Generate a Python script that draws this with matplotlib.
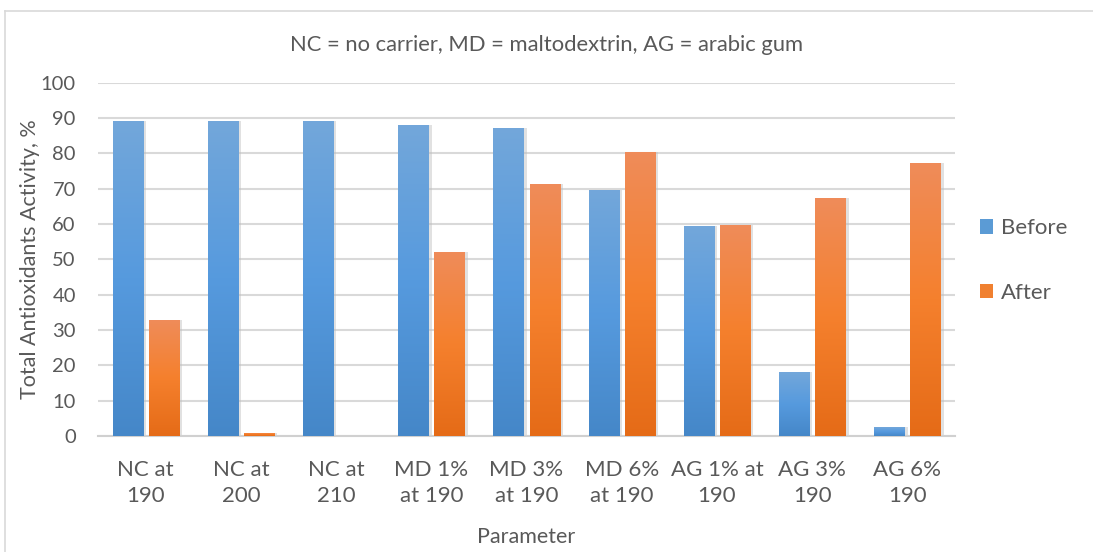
import numpy as np
import matplotlib.pyplot as plt
from matplotlib.colors import LinearSegmentedColormap
from matplotlib.lines import Line2D
from matplotlib.patches import Patch

plt.rcParams['font.family'] = ['Lato', 'DejaVu Sans']

categories = ['NC at\n190', 'NC at\n200', 'NC at\n210', 'MD 1%\nat 190', 'MD 3%\nat 190',
              'MD 6%\nat 190', 'AG 1% at\n190', 'AG 3%\n190', 'AG 6%\n190']
before = [89.2, 89.2, 89.2, 88.1, 87.3, 69.7, 59.5, 18.1, 2.5]
after = [32.9, 0.9, 0.0, 52.1, 71.4, 80.5, 59.8, 67.4, 77.3]

blue_cmap = LinearSegmentedColormap.from_list('b', ['#4587c8', '#569ade', '#73a7da'])
orange_cmap = LinearSegmentedColormap.from_list('o', ['#e56b17', '#f5802d', '#ef8c5a'])
txt = '#595959'

fig = plt.figure(figsize=(10.93, 5.52), dpi=100)
ax = fig.add_axes([0.0897, 0.210, 0.784, 0.64])

x = np.arange(len(categories))
w = 0.316
off = 0.19
grad = np.linspace(0, 1, 256).reshape(-1, 1)

for vals, dx, cmap in [(before, -off, blue_cmap), (after, off, orange_cmap)]:
    bars = ax.bar(x + dx, vals, width=w, color='none', edgecolor='none', zorder=3)
    for b in bars:
        h = b.get_height()
        if h <= 0:
            continue
        # soft shadow
        ax.bar(b.get_x() + b.get_width() / 2 + 0.02, h, width=w + 0.03,
               color='#bdbdbd', alpha=0.45, zorder=2.5)
        im = ax.imshow(grad, cmap=cmap, aspect='auto', origin='lower',
                       extent=[b.get_x(), b.get_x() + b.get_width(), 0, h], zorder=3)
        im.set_clip_path(b)

ax.set_xlim(-0.5, len(categories) - 0.5)
ax.set_ylim(0, 100)
ax.set_yticks(range(0, 101, 10))
ax.yaxis.grid(True, color='#d9d9d9', linewidth=1.5, zorder=0)
ax.set_axisbelow(True)
for s in ['top', 'right', 'left']:
    ax.spines[s].set_visible(False)
ax.spines['bottom'].set_color('#d0d0d0')
ax.spines['bottom'].set_linewidth(1.5)
ax.tick_params(length=0, colors=txt)
ax.tick_params(axis='y', labelsize=14.5, pad=16)
ax.set_xticks(x)
ax.set_xticklabels(categories, linespacing=1.4)
ax.tick_params(axis='x', labelsize=16, pad=17)

fig.text(30 / 1093, 0.5 + 0.03, 'Total Antioxidants Activity, %', rotation=90,
         ha='center', va='center', fontsize=15.5, color=txt)
ax.set_xlabel('Parameter', fontsize=15.5, color=txt, labelpad=15)
fig.text(0.5, 0.918, 'NC = no carrier, MD = maltodextrin, AG = arabic gum',
         ha='center', va='center', fontsize=15.8, color=txt)

handles = [Patch(facecolor='#5b9bd5', label='Before'), Patch(facecolor='#f08030', label='After')]
leg = fig.legend(handles=handles, loc='center left', bbox_to_anchor=(0.878, 0.528),
                 frameon=False, fontsize=16, labelspacing=2.0, handlelength=0.62,
                 handleheight=0.62, handletextpad=0.35)
for t in leg.get_texts():
    t.set_color(txt)

# chart border
fig.add_artist(Line2D([5 / 1093, 5 / 1093], [0, 1 - 11 / 552], color='#d9d9d9', lw=1.2))
fig.add_artist(Line2D([5 / 1093, 1], [1 - 11 / 552, 1 - 11 / 552], color='#d9d9d9', lw=1.2))

fig.savefig('out.png', dpi=100)
